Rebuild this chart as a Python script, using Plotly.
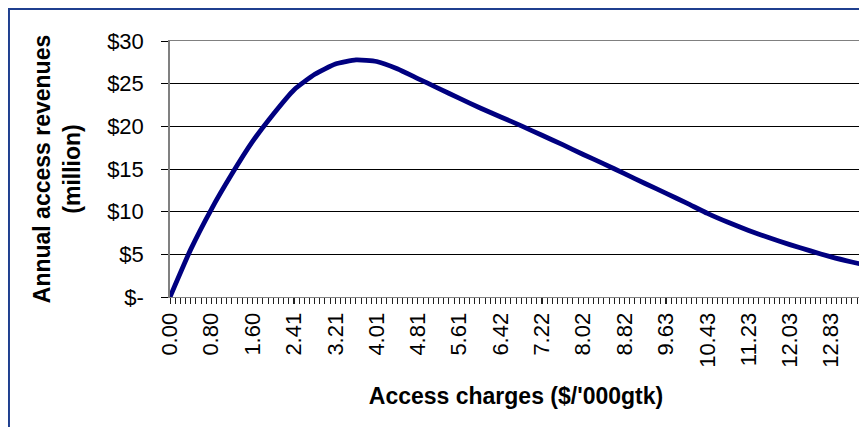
import plotly.graph_objects as go

# access charge ($/'000gtk) and annual access revenue ($ million)
access_charge = [0.00, 0.40, 0.80, 1.20, 1.60, 2.00, 2.41, 2.81, 3.21, 3.61,
                 4.01, 4.41, 4.81, 5.21, 5.61, 6.02, 6.42, 6.82, 7.22, 7.62,
                 8.02, 8.42, 8.82, 9.22, 9.63, 10.03, 10.43, 10.83, 11.23, 11.63,
                 12.03, 12.43, 12.83, 13.23, 13.43]
revenue = [0.0, 5.55, 10.25, 14.4, 18.2, 21.4, 24.3, 26.1, 27.3, 27.78,
           27.6, 26.75, 25.6, 24.45, 23.3, 22.15, 21.1, 20.05, 18.95, 17.85,
           16.7, 15.6, 14.45, 13.3, 12.15, 11.0, 9.8, 8.75, 7.8, 6.94,
           6.14, 5.4, 4.7, 4.1, 3.83]

x_tick_vals = [0.00, 0.80, 1.60, 2.41, 3.21, 4.01, 4.81, 5.61, 6.42, 7.22,
               8.02, 8.82, 9.63, 10.43, 11.23, 12.03, 12.83]
x_tick_text = ["%.2f" % v for v in x_tick_vals]
y_tick_vals = [0, 5, 10, 15, 20, 25, 30]
y_tick_text = ["$-", "$5", "$10", "$15", "$20", "$25", "$30"]

# Excel category axis: one tick mark per category (135 of them)
STEP = 0.10026
category_ticks = [i * STEP for i in range(135)]

NAVY = "#000080"
TICK = "#202020"
FONT = "Liberation Sans, Arial, sans-serif"

fig = go.Figure(go.Scatter(
    x=access_charge,
    y=revenue,
    mode="lines",
    line=dict(color=NAVY, width=4.8, shape="spline", smoothing=0.5),
    hoverinfo="skip",
))

# page body adds 8px around the figure, so the figure is 8px smaller
fig.update_layout(
    width=859, height=419,
    margin=dict(l=162, r=5, t=33, b=130),
    paper_bgcolor="white",
    plot_bgcolor="white",
    font=dict(family=FONT, color="black", size=22),
    showlegend=False,
    xaxis=dict(
        range=[0, 13.43], automargin=False,
        tickmode="array", tickvals=x_tick_vals, ticktext=x_tick_text,
        tickangle=-90, tickfont=dict(size=22),
        ticks="outside", ticklen=6, tickwidth=1.3, tickcolor=TICK,
        minor=dict(tickmode="array", tickvals=category_ticks,
                   ticks="outside", ticklen=6, tickwidth=1.3,
                   tickcolor=TICK, showgrid=False),
        showgrid=False, zeroline=False,
        showline=True, linecolor="#808080", linewidth=1, mirror=True,
        title=dict(text="<b>Access charges ($/'000gtk)</b>",
                   font=dict(size=23), standoff=21),
    ),
    yaxis=dict(
        range=[0, 30], automargin=False,
        tickmode="array", tickvals=y_tick_vals, ticktext=y_tick_text,
        tickfont=dict(size=22), ticklabelstandoff=13,
        ticks="outside", ticklen=7, tickcolor="black",
        showgrid=True, gridcolor="black", gridwidth=1,
        zeroline=False,
        showline=True, linecolor="#808080", linewidth=1.5, mirror=True,
        title=dict(text="<b>Annual access revenues<br>(million)</b>",
                   font=dict(size=23), standoff=20),
    ),
    shapes=[dict(
        type="rect", xref="paper", yref="paper",
        x0=-0.2327, x1=1.05, y0=-0.6, y1=1.125,
        line=dict(color="#1F3F8F", width=2), layer="above",
    )],
)

fig.write_html("out.html")
